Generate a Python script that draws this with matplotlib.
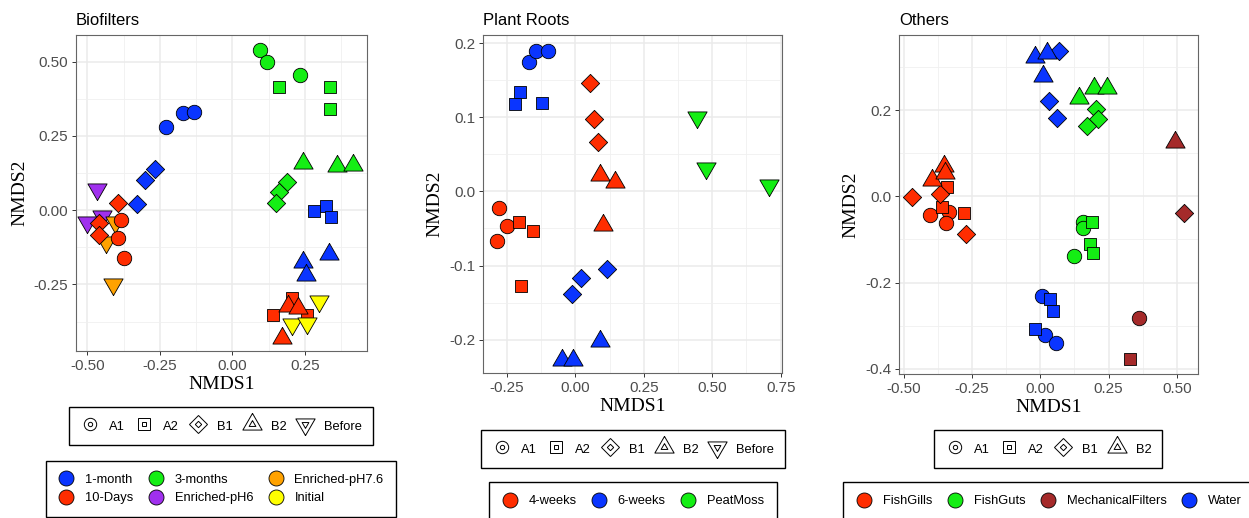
import matplotlib
matplotlib.use("Agg")
import matplotlib.pyplot as plt
from matplotlib.lines import Line2D
from matplotlib.legend_handler import HandlerTuple
from matplotlib.ticker import FormatStrFormatter

plt.rcParams['font.family'] = ['Liberation Sans', 'DejaVu Sans']
plt.rcParams['axes.unicode_minus'] = False

# ---------------- Biofilters ----------------
bio_x = [0.094, 0.120, 0.232, 0.160, 0.335, 0.337, 0.188, 0.162, 0.152, 0.243, 0.362, 0.417,
         -0.229, -0.171, -0.133, 0.283, 0.322, 0.339, -0.268, -0.300, -0.330, 0.244, 0.254, 0.332,
         -0.385, -0.393, -0.374, 0.141, 0.205, 0.257, -0.394, -0.461, -0.460, 0.190, 0.226, 0.172,
         -0.468, -0.450, -0.500,
         -0.406, -0.435, -0.412,
         0.297, 0.207, 0.256]
bio_y = [0.540, 0.498, 0.455, 0.414, 0.414, 0.341, 0.094, 0.063, 0.024, 0.160, 0.149, 0.153,
         0.281, 0.327, 0.330, -0.001, 0.014, -0.024, 0.138, 0.102, 0.021, -0.174, -0.219, -0.148,
         -0.034, -0.094, -0.161, -0.354, -0.296, -0.354, 0.024, -0.044, -0.084, -0.322, -0.330, -0.429,
         0.072, -0.018, -0.040,
         -0.041, -0.108, -0.248,
         -0.304, -0.383, -0.381]
bio_group = (["3-months"] * 12 + ["1-month"] * 12 + ["10-Days"] * 12
             + ["Enriched-pH6"] * 3 + ["Enriched-pH7.6"] * 3 + ["Initial"] * 3)
bio_site = (["A1"] * 3 + ["A2"] * 3 + ["B1"] * 3 + ["B2"] * 3) * 3 + ["Before"] * 9
bio_colors = {"1-month": "#0A35FF", "10-Days": "#FF2D00", "3-months": "#14EE14",
              "Enriched-pH6": "#A030EE", "Enriched-pH7.6": "#FFA200", "Initial": "#FFFF00"}
bio_order = ["Enriched-pH6", "Enriched-pH7.6", "1-month", "3-months", "10-Days", "Initial"]

# ---------------- Plant roots ----------------
root_x = [-0.278, -0.249, -0.288, -0.207, -0.154, -0.198, 0.052, 0.068, 0.084, 0.090, 0.146, 0.100,
          -0.171, -0.145, -0.100, -0.201, -0.220, -0.122, 0.020, -0.011, 0.117, 0.089, -0.050, -0.010,
          0.445, 0.476, 0.706]
root_y = [-0.023, -0.047, -0.067, -0.041, -0.054, -0.128, 0.146, 0.098, 0.067, 0.022, 0.013, -0.045,
          0.175, 0.190, 0.190, 0.134, 0.118, 0.119, -0.117, -0.139, -0.105, -0.202, -0.228, -0.228,
          0.100, 0.032, 0.009]
root_group = ["4-weeks"] * 12 + ["6-weeks"] * 12 + ["PeatMoss"] * 3
root_site = (["A1"] * 3 + ["A2"] * 3 + ["B1"] * 3 + ["B2"] * 3) * 2 + ["Before"] * 3
root_colors = {"4-weeks": "#FF2D00", "6-weeks": "#0A35FF", "PeatMoss": "#14EE14"}

# ---------------- Others ----------------
oth_x = [-0.403, -0.335, -0.347, -0.342, -0.359, -0.280, -0.366, -0.469, -0.271, -0.354, -0.397, -0.350,
         0.156, 0.156, 0.125, 0.189, 0.181, 0.192, 0.203, 0.212, 0.172, 0.140, 0.195, 0.245,
         0.360, 0.327, 0.527, 0.492,
         0.007, 0.017, 0.056, 0.034, 0.046, -0.021, 0.068, 0.031, 0.061, -0.018, 0.023, 0.010]
oth_y = [-0.043, -0.036, -0.063, 0.022, -0.024, -0.038, 0.005, -0.002, -0.087, 0.071, 0.038, 0.055,
         -0.059, -0.074, -0.138, -0.059, -0.110, -0.132, 0.203, 0.179, 0.164, 0.229, 0.251, 0.252,
         -0.281, -0.377, -0.039, 0.125,
         -0.230, -0.322, -0.339, -0.239, -0.267, -0.308, 0.337, 0.222, 0.181, 0.324, 0.333, 0.278]
oth_group = ["FishGills"] * 12 + ["FishGuts"] * 12 + ["MechanicalFilters"] * 4 + ["Water"] * 12
oth_site = ((["A1"] * 3 + ["A2"] * 3 + ["B1"] * 3 + ["B2"] * 3) * 2 + ["A1", "A2", "B1", "B2"]
            + ["A1"] * 3 + ["A2"] * 3 + ["B1"] * 3 + ["B2"] * 3)
oth_colors = {"FishGills": "#FF2D00", "FishGuts": "#14EE14",
              "MechanicalFilters": "#A52A2A", "Water": "#0A35FF"}

# triangles with the point at the centroid
tri_up = [(0, 1.555), (1.347, -0.778), (-1.347, -0.778), (0, 1.555)]
tri_down = [(0, -1.555), (1.347, 0.778), (-1.347, 0.778), (0, -1.555)]
markers = {"A1": "o", "A2": "s", "B1": "D", "B2": tri_up, "Before": tri_down}
msize = {"A1": 10.4, "A2": 9.3, "B1": 9.3, "B2": 16.0, "Before": 16.0}

W, H = 1249, 518
fig = plt.figure(figsize=(W / 100, H / 100), dpi=100)


def minor_breaks(major, lo, hi):
    step = major[1] - major[0]
    pts = [m + step / 2 for m in major] + [major[0] - step / 2]
    return [p for p in pts if lo <= p <= hi]


def draw_panel(rect, title, xs, ys, groups, sites, colors, order,
               xlim, ylim, xticks, yticks, xfmt, yfmt):
    ax = fig.add_axes(rect)
    for g in order:
        for s in ["A1", "A2", "B1", "B2", "Before"]:
            px = [x for x, gg, ss in zip(xs, groups, sites) if gg == g and ss == s]
            py = [y for y, gg, ss in zip(ys, groups, sites) if gg == g and ss == s]
            if px:
                ax.scatter(px, py, s=msize[s] ** 2, marker=markers[s], c=colors[g],
                           edgecolors='black', linewidths=0.6, zorder=3)
    ax.set_xlim(xlim)
    ax.set_ylim(ylim)
    ax.set_xticks(xticks)
    ax.set_yticks(yticks)
    ax.set_xticks(minor_breaks(xticks, *xlim), minor=True)
    ax.set_yticks(minor_breaks(yticks, *ylim), minor=True)
    ax.xaxis.set_major_formatter(FormatStrFormatter(xfmt))
    ax.yaxis.set_major_formatter(FormatStrFormatter(yfmt))
    ax.grid(which='major', color='#EBEBEB', lw=1.1)
    ax.grid(which='minor', color='#F0F0F0', lw=0.6)
    ax.set_axisbelow(True)
    ax.tick_params(which='major', length=2.7, width=0.7, color='#333333',
                   labelsize=11, labelcolor='#4D4D4D', pad=3)
    ax.tick_params(which='minor', length=0)
    for sp in ax.spines.values():
        sp.set_color('#666666')
        sp.set_linewidth(0.8)
    ax.set_title(title, loc='left', fontsize=12, pad=7)
    ax.set_xlabel("NMDS1", family='Liberation Serif', fontsize=14, labelpad=2)
    ax.set_ylabel("NMDS2", family='Liberation Serif', fontsize=14, labelpad=4)
    return ax


def px_rect(left, top, right, bottom):
    return [left / W, 1 - bottom / H, (right - left) / W, (bottom - top) / H]


draw_panel(px_rect(76, 35, 367, 351), "Biofilters", bio_x, bio_y, bio_group, bio_site,
           bio_colors, bio_order, (-0.539, 0.464), (-0.474, 0.59),
           [-0.5, -0.25, 0.0, 0.25], [-0.25, 0.0, 0.25, 0.5], '%.2f', '%.2f')
draw_panel(px_rect(483, 35, 782, 373), "Plant Roots", root_x, root_y, root_group, root_site,
           root_colors, list(root_colors), (-0.338, 0.755), (-0.245, 0.211),
           [-0.25, 0.0, 0.25, 0.5, 0.75], [-0.2, -0.1, 0.0, 0.1, 0.2], '%.2f', '%.1f')
draw_panel(px_rect(899, 35, 1198, 374), "Others", oth_x, oth_y, oth_group, oth_site,
           oth_colors, list(oth_colors), (-0.518, 0.578), (-0.412, 0.374),
           [-0.5, -0.25, 0.0, 0.25, 0.5], [-0.4, -0.2, 0.0, 0.2], '%.2f', '%.1f')


def shape_legend(site_list, cx, cy):
    handles = []
    for s in site_list:
        big = 8.9 if s == "A1" else msize[s]
        outer = Line2D([], [], ls='none', marker=markers[s], ms=big,
                       mfc='white', mec='black', mew=0.7)
        inner = Line2D([], [], ls='none', marker=markers[s], ms=big * 0.35,
                       mfc='none', mec='black', mew=0.7)
        handles.append((outer, inner))
    leg = fig.legend(handles, site_list, loc='center', bbox_to_anchor=(cx / W, 1 - cy / H),
                     ncol=len(site_list), handler_map={tuple: HandlerTuple(ndivide=1)},
                     fontsize=9.3, handlelength=1.55, handleheight=1.6, handletextpad=0.7,
                     columnspacing=0.7, borderpad=0.8, fancybox=False,
                     edgecolor='black', framealpha=1)
    leg.get_frame().set_linewidth(1.0)


def color_legend(colors, ncol, cx, cy):
    labels = sorted(colors)
    handles = [Line2D([], [], ls='none', marker='o', ms=10.8, mfc=colors[g],
                      mec='black', mew=0.6) for g in labels]
    leg = fig.legend(handles, labels, loc='center', bbox_to_anchor=(cx / W, 1 - cy / H),
                     ncol=ncol, fontsize=9.3, handlelength=1.2, handletextpad=0.85,
                     columnspacing=1.15, labelspacing=0.52, borderpad=1.0,
                     fancybox=False, edgecolor='black', framealpha=1)
    leg.get_frame().set_linewidth(1.0)


shape_legend(["A1", "A2", "B1", "B2", "Before"], 221, 426)
color_legend(bio_colors, 3, 221, 489)
shape_legend(["A1", "A2", "B1", "B2", "Before"], 633, 449)
color_legend(root_colors, 3, 633, 501)
shape_legend(["A1", "A2", "B1", "B2"], 1048, 449)
color_legend(oth_colors, 4, 1049, 501)

fig.savefig("out.png", dpi=100)
